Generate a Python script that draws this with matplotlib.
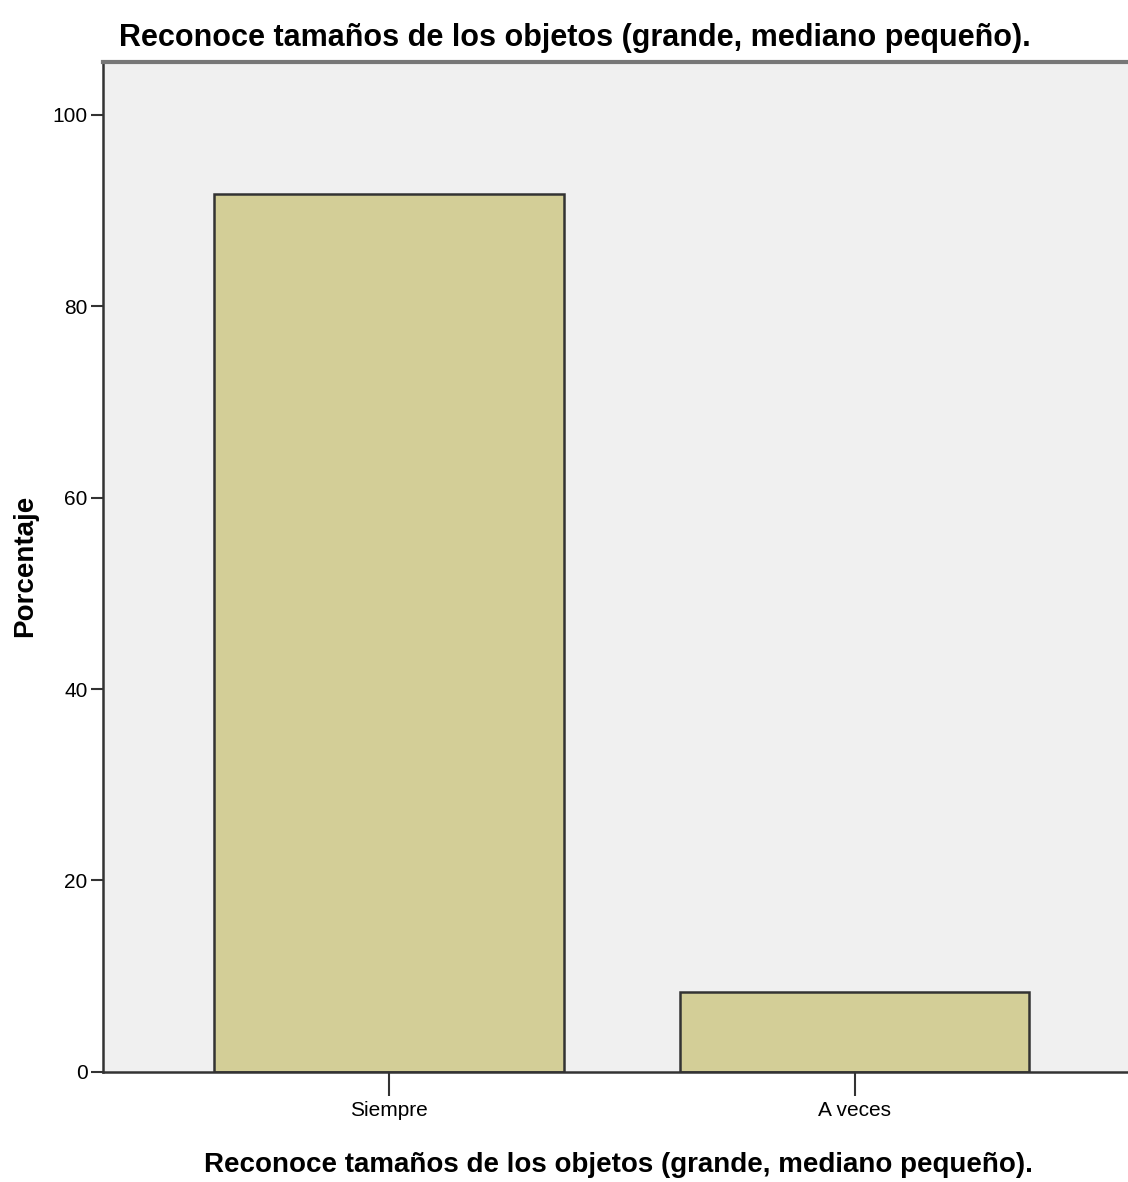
import matplotlib
matplotlib.use("Agg")
import matplotlib.pyplot as plt
import numpy as np

# data
categories = ["Siempre", "A veces"]
percent = [91.67, 8.33]
y_ticks = [0, 20, 40, 60, 80, 100]

TITLE = "Reconoce tamaños de los objetos (grande, mediano pequeño)."
FONT = ["Liberation Sans", "DejaVu Sans"]

fig = plt.figure(figsize=(11.28, 11.82), dpi=100)
ax = fig.add_axes([0.0913, 0.0931, 0.920, 0.8545])
ax.set_facecolor("#F0F0F0")

x = np.arange(len(categories))
ax.bar(x, percent, width=0.75, color="#D3CE97", edgecolor="#333333", linewidth=1.8)

ax.set_xlim(-0.614, 1.614)
ax.set_ylim(0, 105.5)
ax.set_xticks(x)
ax.set_xticklabels(categories, family=FONT, fontsize=15)
ax.set_yticks(y_ticks)
ax.set_yticklabels([str(v) for v in y_ticks], family=FONT, fontsize=15)
ax.tick_params(axis="y", length=9, width=1.5, color="#333333", pad=2)
ax.tick_params(axis="x", length=17, width=1.5, color="#333333", pad=4)

for side in ["left", "bottom"]:
    ax.spines[side].set_color("#333333")
    ax.spines[side].set_linewidth(1.8)
ax.spines["top"].set_color("#777777")
ax.spines["top"].set_linewidth(3)
ax.spines["right"].set_visible(False)

fig.text(0.510, 0.968, TITLE, ha="center", va="center",
         family=FONT, fontsize=22, fontweight="bold")
fig.text(0.548, 0.014, TITLE, ha="center", va="center",
         family=FONT, fontsize=20, fontweight="bold")
fig.text(0.022, 0.521, "Porcentaje", ha="center", va="center", rotation=90,
         family=FONT, fontsize=20, fontweight="bold")

fig.savefig("out.png", dpi=100)
